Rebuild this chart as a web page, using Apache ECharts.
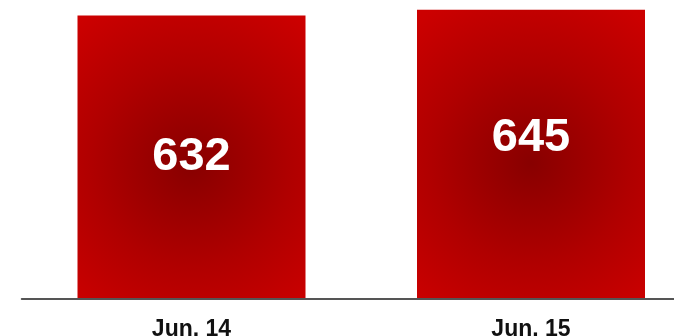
<!DOCTYPE html>
<html>
<head>
<meta charset="utf-8">
<style>
  html, body { margin: 0; padding: 0; background: #ffffff; }
  #chart { width: 674px; height: 336px; }
</style>
<script src="https://cdn.jsdelivr.net/npm/echarts@6/dist/echarts.min.js"></script>
</head>
<body>
<div id="chart"></div>
<script>
// Monthly totals shown as two bars
const categories = ['Jun. 14', 'Jun. 15'];
const values = [632, 645];
// vertical nudge (px) for each value label
const labelShift = [0, -16];

const chart = echarts.init(document.getElementById('chart'), null, { renderer: 'canvas' });

function barFill() {
  return new echarts.graphic.RadialGradient(0.5, 0.53, 0.8, [
    { offset: 0, color: '#880000' },
    { offset: 0.55, color: '#b00000' },
    { offset: 1, color: '#cc0000' }
  ]);
}

const seriesData = values.map((v, i) => ({
  value: v,
  label: { offset: [0, labelShift[i]] }
}));

chart.setOption({
  animation: false,
  grid: {
    left: 21.75, top: 7.5, width: 679, bottom: 37.5,
    containLabel: false,
    outerBoundsMode: 'none'
  },
  xAxis: {
    type: 'category',
    data: categories,
    z: 5,
    axisLine: { show: true, lineStyle: { color: '#555555', width: 2 } },
    axisTick: { show: false },
    axisLabel: {
      color: '#111111',
      fontFamily: 'Liberation Sans, Arial, sans-serif',
      fontWeight: 'bold',
      fontSize: 23,
      margin: 20
    }
  },
  yAxis: {
    type: 'value',
    min: 0,
    max: 650,
    show: false,
    splitLine: { show: false }
  },
  series: [{
    type: 'bar',
    data: seriesData,
    barWidth: 228,
    itemStyle: { color: barFill() },
    label: {
      show: true,
      position: 'inside',
      color: '#ffffff',
      fontFamily: 'Liberation Sans, Arial, sans-serif',
      fontWeight: 'bold',
      fontSize: 47
    }
  }]
});
</script>
</body>
</html>
